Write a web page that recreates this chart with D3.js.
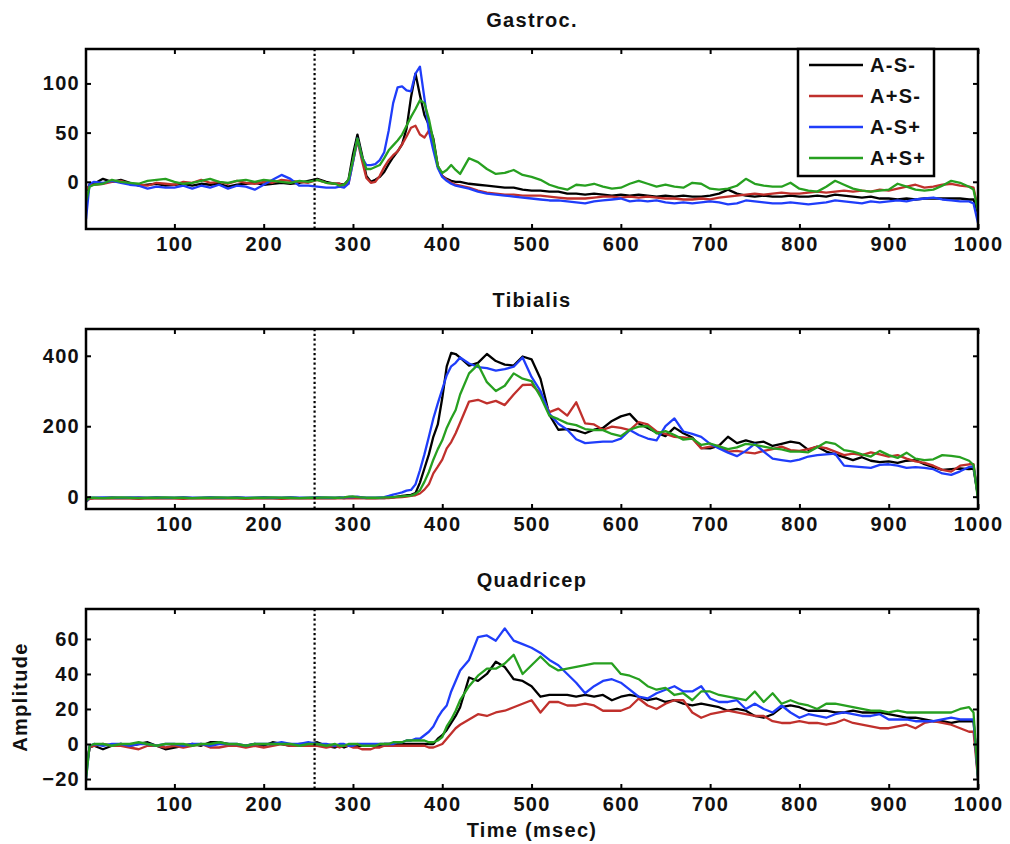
<!DOCTYPE html>
<html><head><meta charset="utf-8">
<script src="https://cdn.jsdelivr.net/npm/d3@7"></script>
<style>
body{margin:0;background:#fff}
text{font-family:"Liberation Sans",Arial,Helvetica,sans-serif;font-weight:bold;fill:#111}
</style>
</head><body><svg id="chart" width="1010" height="844"></svg>
<script>
// ---------------- DATA ----------------
const times = [1,5,10,20,30,40,50,60,70,80,90,100,110,120,130,140,150,160,170,180,190,200,210,220,230,240,250,260,270,280,
  285,290,295,300,305,310,315,320,325,330,335,340,345,350,355,360,365,370,375,380,385,390,395,400,405,410,415,420,
  430,440,450,460,470,480,490,500,510,520,530,540,550,560,570,580,590,600,610,620,630,640,650,660,670,680,690,700,710,720,
  730,740,750,760,770,780,790,800,810,820,830,840,850,860,870,880,890,900,910,920,930,940,950,960,970,980,990,995,1000];

const seriesNames = ["A-S-","A+S-","A-S+","A+S+"];
const panelTitles = ["Gastroc.","Tibialis","Quadricep"];
const xTickValues = [100,200,300,400,500,600,700,800,900,1000];
const gastrocTicks = [0,50,100];
const tibialisTicks = [0,200,400];
const quadricepTicks = [-20,0,20,40,60];
const onsetTime = 257;
const xLabel = "Time (msec)";
const yLabel = "Amplitude";

// Gastroc.
const gastrocAmSm = [-10,-3,-2,3,0,2,-1,-4,-3,-2,-4,-3,-2,-4,-2,-3,-2,-5,-3,-2,-1,-3,-2,-1,-2,-1,1,3,0,-2,
  -2,-3,2,28,48,28,6,0,2,5,10,18,25,31,38,54,86,110,88,68,58,44,16,6,3,1,0,0,
  -2,-3,-4,-5,-6,-6,-8,-9,-9,-10,-10,-12,-12,-13,-12,-13,-14,-13,-14,-13,-14,-15,-14,-15,-14,-15,-15,-14,-12,-8,
  -12,-14,-15,-14,-15,-15,-14,-15,-15,-14,-15,-13,-14,-15,-16,-15,-17,-17,-18,-17,-18,-17,-17,-17,-17,-17,-18,-18,-32];
const gastrocApSm = [-8,-4,-3,-2,0,1,-2,-3,-4,-1,-2,-3,0,-1,2,-1,0,-2,1,-1,-2,0,-1,2,1,0,-1,2,-1,-2,
  -2,-4,-2,20,42,22,4,-1,0,6,15,22,27,31,38,46,55,57,48,45,52,38,16,6,2,-1,-3,-4,
  -6,-9,-11,-12,-13,-13,-14,-14,-14,-15,-16,-17,-17,-17,-16,-15,-15,-16,-15,-16,-15,-16,-17,-17,-18,-18,-17,-18,-16,-15,
  -14,-13,-12,-13,-12,-11,-12,-12,-11,-10,-11,-10,-9,-10,-9,-10,-8,-9,-7,-5,-3,-6,-5,-3,-2,-4,-5,-6,-28];
const gastrocAmSp = [-38,-2,0,-1,1,-1,-3,-4,-7,-5,-6,-6,-4,-7,-4,-6,-3,-7,-4,-5,-8,-3,2,7,3,-4,-4,-5,-6,-6,
  -5,-6,-2,20,44,25,17,17,18,22,30,52,80,96,97,93,92,110,117,85,52,32,14,5,1,-2,-4,-5,
  -7,-10,-12,-13,-14,-15,-16,-17,-18,-19,-19,-20,-21,-22,-20,-19,-18,-17,-20,-19,-20,-19,-21,-22,-21,-22,-21,-20,-21,-23,
  -22,-19,-20,-21,-22,-22,-21,-22,-23,-22,-21,-19,-20,-21,-22,-20,-21,-20,-19,-20,-18,-17,-16,-18,-19,-20,-20,-22,-42];
const gastrocApSp = [-20,-5,-3,-2,2,0,-1,-2,1,2,3,0,-2,-1,1,3,0,-1,1,2,0,2,1,0,-1,1,0,2,-1,-2,
  -4,-3,2,22,44,26,13,13,15,17,24,32,37,42,48,57,66,74,83,80,64,42,16,9,12,17,12,8,
  24,20,13,8,9,12,7,5,2,-3,-6,-8,-3,-4,-2,-5,-7,-6,-2,1,-2,-5,-3,-5,-6,-1,-2,-7,-8,-7,
  -4,3,-2,-4,-5,-5,-1,-7,-9,-10,-5,1,-3,-7,-9,-10,-9,-8,-2,-5,-8,-9,-8,-4,1,-1,-5,-8,-30];

// Tibialis
const tibialisAmSm = [-14,-5,-4,-4,-3,-4,-4,-3,-4,-3,-4,-4,-3,-4,-4,-3,-4,-4,-3,-4,-4,-3,-4,-4,-3,-4,-4,-3,-4,-4,
  -3,-4,-3,-3,-2,-3,-4,-4,-4,-4,-4,-3,-2,0,2,4,5,10,40,80,120,170,205,280,370,408,405,395,
  372,380,405,385,375,372,398,390,335,232,190,192,188,180,190,195,215,228,235,208,195,182,172,196,180,168,138,137,145,170,
  152,160,153,156,144,150,156,152,133,142,128,120,112,104,112,102,98,100,96,102,104,92,84,76,78,80,78,80,2];
const tibialisApSm = [-14,-6,-5,-4,-5,-4,-5,-6,-4,-5,-4,-5,-6,-4,-5,-4,-5,-4,-5,-6,-5,-4,-5,-6,-5,-4,-5,-4,-5,-5,
  -5,-4,-5,-5,-4,-5,-5,-4,-5,-4,-4,-4,-3,-2,-1,0,2,4,9,20,35,66,85,105,137,155,180,210,
  270,275,265,272,260,290,317,318,293,240,250,230,268,208,205,190,199,195,189,212,205,185,178,170,168,165,137,142,145,128,
  130,126,123,130,135,142,132,130,135,142,138,128,118,122,118,126,120,114,118,108,100,96,88,76,71,88,92,92,0];
const tibialisAmSp = [-14,-3,-3,-2,-3,-3,-2,-3,-3,-2,-3,-3,-2,-3,-3,-2,-3,-3,-2,-3,-3,-2,-3,-3,-2,-3,-3,-2,-3,-3,
  -3,-2,-1,-1,0,-2,-3,-3,-3,-2,-1,2,6,9,12,17,19,35,75,120,170,222,265,305,345,370,380,395,
  378,368,365,358,362,369,395,340,300,235,207,190,163,152,154,156,156,165,189,175,165,160,200,222,185,178,170,150,137,125,
  115,130,150,128,108,104,100,105,114,118,120,122,88,86,84,82,90,92,88,82,84,82,78,66,62,72,84,86,0];
const tibialisApSp = [-12,-3,-3,-4,-3,-2,-3,-4,-3,-3,-2,-3,-3,-4,-3,-3,-2,-3,-3,-4,-3,-3,-2,-3,-3,-4,-3,-3,-2,-3,
  -3,-2,0,1,-1,-2,-3,-3,-3,-3,-2,-2,-1,0,1,2,3,8,18,42,70,105,135,160,195,222,246,290,
  350,375,325,300,315,350,335,328,284,230,220,208,203,192,189,189,178,172,190,199,200,180,186,175,162,165,147,151,143,135,
  140,150,147,142,137,134,128,128,126,140,155,150,132,128,120,114,130,118,110,125,108,104,106,118,116,112,102,90,-8];

// Quadricep
const quadricepAmSm = [-15,-2,-1,-3,-1,0,-1,0,1,-1,-3,-2,-1,0,-1,1,1,0,-1,-1,0,-1,1,0,-1,0,0,1,-1,-2,
  -1,-2,-1,-1,-1,-1,-1,-1,-1,-1,0,0,0,0,0,0,0,0,0,0,0,0,3,5,8,12,16,21,
  38,36,40,47,44,37,36,33,27,28,28,28,27,28,27,28,25,27,28,27,25,26,24,25,23,22,23,22,21,19,
  20,19,16,15,17,21,22,21,19,19,19,18,18,19,18,18,18,17,16,15,15,14,13,13,12,13,13,13,-18];
const quadricepApSm = [-15,-2,-1,0,-1,-1,-2,-3,-1,-1,-2,-1,-2,-1,0,-2,-2,-1,-1,-2,-1,-2,-1,0,-1,-1,-1,-1,-2,-1,
  -2,-1,-1,-2,-2,-3,-3,-3,-2,-2,-1,-1,-1,-1,-1,-1,-1,-1,-1,-1,-2,-2,-1,0,3,6,9,11,
  14,17,16,18,19,21,23,25,18,24,24,22,22,23,22,19,19,19,21,26,22,20,23,25,25,18,15,17,18,19,
  18,17,16,16,13,12,12,13,12,12,11,12,14,12,11,10,9,9,10,11,9,12,13,12,11,9,7,7,-20];
const quadricepAmSp = [-20,-1,0,-1,0,0,-1,0,0,-1,0,0,-1,0,0,-1,0,0,0,-1,0,0,0,1,0,0,1,0,0,-1,
  0,0,-1,-1,0,0,0,0,0,0,0,0,0,1,1,2,2,3,3,5,7,10,15,19,22,30,36,42,
  48,61,62,59,66,59,57,55,52,48,45,40,35,29,33,36,37,35,31,27,26,29,31,33,30,30,33,26,24,24,
  25,20,23,20,18,22,18,15,17,16,15,17,18,17,16,16,17,14,14,14,13,13,13,14,15,14,14,14,-20];
const quadricepApSp = [-20,-1,0,0,-1,0,0,1,0,-1,0,0,0,-1,0,0,1,0,0,-1,0,0,0,0,0,-1,0,0,-1,0,
  -1,-1,0,0,0,-1,-1,-1,-1,0,0,0,1,1,1,2,2,2,2,2,1,1,2,4,10,14,19,25,
  33,39,43,43,46,51,40,45,50,45,42,43,44,45,46,46,46,40,39,37,33,31,32,28,29,25,30,30,28,27,
  26,25,30,24,29,23,25,23,22,20,23,23,22,21,20,19,19,18,19,18,18,18,18,18,18,20,21,18,-20];

// ---------------- DRAWING ----------------
const panels = [
  {title: panelTitles[0], ticks: gastrocTicks, domain: [-48, 135], series: [gastrocAmSm, gastrocApSm, gastrocAmSp, gastrocApSp]},
  {title: panelTitles[1], ticks: tibialisTicks, domain: [-35, 476], series: [tibialisAmSm, tibialisApSm, tibialisAmSp, tibialisApSp]},
  {title: panelTitles[2], ticks: quadricepTicks, domain: [-25.7, 77.1], series: [quadricepAmSm, quadricepApSm, quadricepAmSp, quadricepApSp]}
];
const colors = ["#000000", "#c0302c", "#1f3dfa", "#27a020"];
const left = 86, right = 978, tops = [49, 329, 609], ph = 180;
const FS = 20, LS = "1.3px";

const svg = d3.select("#chart");
svg.append("rect").attr("width", 1010).attr("height", 844).attr("fill", "#fff");
const x = d3.scaleLinear().domain([1, 1000]).range([left, right]);

function styleText(sel) {
  sel.attr("font-size", FS).attr("font-family", null).attr("fill", "#111").style("letter-spacing", LS);
}

panels.forEach((p, i) => {
  const top = tops[i], bottom = top + ph;
  const y = d3.scaleLinear().domain(p.domain).range([bottom, top]);
  const g = svg.append("g");
  const clipId = "clip" + i;
  svg.append("clipPath").attr("id", clipId).append("rect")
    .attr("x", left).attr("y", top).attr("width", right - left).attr("height", ph);

  // lines
  const lines = g.append("g").attr("clip-path", `url(#${clipId})`);
  p.series.forEach((vals, k) => {
    const n = Math.min(times.length, vals.length);
    const pts = d3.range(n).map(j => [times[j], vals[j]]);
    lines.append("path").datum(pts)
      .attr("fill", "none").attr("stroke", colors[k]).attr("stroke-width", 2.3)
      .attr("stroke-linejoin", "round")
      .attr("d", d3.line().x(d => x(d[0])).y(d => y(d[1])));
  });

  // onset dotted line
  g.append("line").attr("x1", x(onsetTime)).attr("x2", x(onsetTime))
    .attr("y1", top).attr("y2", bottom)
    .attr("stroke", "#000").attr("stroke-width", 2.2).attr("stroke-dasharray", "2.2,2.6");

  // axes
  const ax = g.append("g").attr("transform", `translate(0,${bottom})`)
    .call(d3.axisBottom(x).tickValues(xTickValues).tickFormat(d3.format("d"))
      .tickSizeInner(-5).tickSizeOuter(0).tickPadding(8));
  const axT = g.append("g").attr("transform", `translate(0,${top})`)
    .call(d3.axisTop(x).tickValues(xTickValues).tickSizeInner(-5).tickSizeOuter(0).tickFormat(""));
  const ay = g.append("g").attr("transform", `translate(${left},0)`)
    .call(d3.axisLeft(y).tickValues(p.ticks).tickFormat(d3.format("d"))
      .tickSizeInner(-5).tickSizeOuter(0).tickPadding(6));
  const ayR = g.append("g").attr("transform", `translate(${right},0)`)
    .call(d3.axisRight(y).tickValues(p.ticks).tickSizeInner(-5).tickSizeOuter(0).tickFormat(""));
  [ax, axT, ay, ayR].forEach(a => {
    a.select(".domain").remove();
    a.selectAll("line").attr("stroke", "#000").attr("stroke-width", 2);
    styleText(a.selectAll("text"));
  });

  // box
  g.append("rect").attr("x", left).attr("y", top).attr("width", right - left).attr("height", ph)
    .attr("fill", "none").attr("stroke", "#000").attr("stroke-width", 2.5);

  // title
  styleText(g.append("text").attr("x", (left + right) / 2).attr("y", top - 22)
    .attr("text-anchor", "middle").text(p.title));
});

// axis labels
styleText(svg.append("text").attr("x", (left + right) / 2).attr("y", 837).attr("text-anchor", "middle").text(xLabel));
styleText(svg.append("text").attr("transform", "translate(27,697) rotate(-90)").attr("text-anchor", "middle").text(yLabel));

// legend
const lg = svg.append("g");
lg.append("rect").attr("x", 798).attr("y", 49).attr("width", 136).attr("height", 127)
  .attr("fill", "#fff").attr("stroke", "#000").attr("stroke-width", 2.5);
seriesNames.forEach((name, k) => {
  const yy = 65 + k * 31;
  lg.append("line").attr("x1", 809).attr("x2", 863).attr("y1", yy).attr("y2", yy)
    .attr("stroke", colors[k]).attr("stroke-width", 2.3);
  styleText(lg.append("text").attr("x", 870).attr("y", yy).attr("dy", "0.36em").text(name));
});
</script>
</body></html>
